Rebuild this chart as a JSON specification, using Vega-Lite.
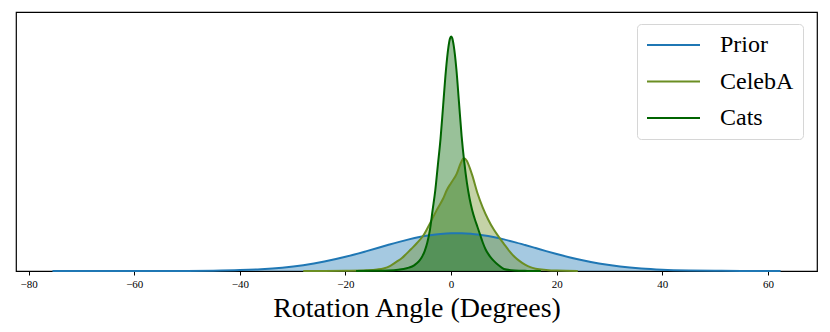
{
  "$schema": "https://vega.github.io/schema/vega-lite/v6.json",
  "width": 801,
  "height": 259,
  "autosize": "none",
  "padding": {"left": 16, "top": 12, "right": 13, "bottom": 61},
  "background": "white",
  "config": {
    "view": {"stroke": "black", "strokeWidth": 1.2},
    "font": "Liberation Serif"
  },
  "datasets": {
    "d": [
      {"series": "Prior", "x": -75.5, "y": 0},
      {"series": "Prior", "x": -70, "y": 0},
      {"series": "Prior", "x": -60, "y": 0.00004},
      {"series": "Prior", "x": -50, "y": 0.00045},
      {"series": "Prior", "x": -45, "y": 0.0013},
      {"series": "Prior", "x": -40, "y": 0.0035},
      {"series": "Prior", "x": -36, "y": 0.007},
      {"series": "Prior", "x": -32, "y": 0.013},
      {"series": "Prior", "x": -28, "y": 0.0225},
      {"series": "Prior", "x": -24, "y": 0.0364},
      {"series": "Prior", "x": -20, "y": 0.0548},
      {"series": "Prior", "x": -16, "y": 0.0768},
      {"series": "Prior", "x": -12, "y": 0.1003},
      {"series": "Prior", "x": -10, "y": 0.1116},
      {"series": "Prior", "x": -8, "y": 0.122},
      {"series": "Prior", "x": -6, "y": 0.131},
      {"series": "Prior", "x": -4, "y": 0.138},
      {"series": "Prior", "x": -2, "y": 0.1431},
      {"series": "Prior", "x": 0, "y": 0.1457},
      {"series": "Prior", "x": 2, "y": 0.1459},
      {"series": "Prior", "x": 4, "y": 0.1431},
      {"series": "Prior", "x": 6, "y": 0.138},
      {"series": "Prior", "x": 8, "y": 0.131},
      {"series": "Prior", "x": 10, "y": 0.122},
      {"series": "Prior", "x": 12, "y": 0.1116},
      {"series": "Prior", "x": 14, "y": 0.1003},
      {"series": "Prior", "x": 16, "y": 0.0886},
      {"series": "Prior", "x": 18, "y": 0.0768},
      {"series": "Prior", "x": 20, "y": 0.0655},
      {"series": "Prior", "x": 24, "y": 0.0451},
      {"series": "Prior", "x": 28, "y": 0.0289},
      {"series": "Prior", "x": 32, "y": 0.0172},
      {"series": "Prior", "x": 36, "y": 0.0096},
      {"series": "Prior", "x": 40, "y": 0.005},
      {"series": "Prior", "x": 45, "y": 0.002},
      {"series": "Prior", "x": 50, "y": 0.0007},
      {"series": "Prior", "x": 55, "y": 0.0002},
      {"series": "Prior", "x": 62.4, "y": 0},
      {"series": "CelebA", "x": -28, "y": 0},
      {"series": "CelebA", "x": -24, "y": 0.0003},
      {"series": "CelebA", "x": -20, "y": 0.001},
      {"series": "CelebA", "x": -16, "y": 0.003},
      {"series": "CelebA", "x": -14, "y": 0.006},
      {"series": "CelebA", "x": -12.8, "y": 0.01},
      {"series": "CelebA", "x": -11.5, "y": 0.02},
      {"series": "CelebA", "x": -10.3, "y": 0.036},
      {"series": "CelebA", "x": -9.3, "y": 0.05},
      {"series": "CelebA", "x": -8.4, "y": 0.068},
      {"series": "CelebA", "x": -7.5, "y": 0.086},
      {"series": "CelebA", "x": -6.5, "y": 0.107},
      {"series": "CelebA", "x": -5.2, "y": 0.139},
      {"series": "CelebA", "x": -4, "y": 0.184},
      {"series": "CelebA", "x": -2.7, "y": 0.236},
      {"series": "CelebA", "x": -1.5, "y": 0.28},
      {"series": "CelebA", "x": -0.8, "y": 0.313},
      {"series": "CelebA", "x": 0, "y": 0.34},
      {"series": "CelebA", "x": 1.1, "y": 0.377},
      {"series": "CelebA", "x": 1.8, "y": 0.415},
      {"series": "CelebA", "x": 2.4, "y": 0.435},
      {"series": "CelebA", "x": 3, "y": 0.425},
      {"series": "CelebA", "x": 3.5, "y": 0.4},
      {"series": "CelebA", "x": 4, "y": 0.37},
      {"series": "CelebA", "x": 5, "y": 0.3},
      {"series": "CelebA", "x": 6, "y": 0.245},
      {"series": "CelebA", "x": 7, "y": 0.2},
      {"series": "CelebA", "x": 8, "y": 0.163},
      {"series": "CelebA", "x": 9, "y": 0.133},
      {"series": "CelebA", "x": 10, "y": 0.105},
      {"series": "CelebA", "x": 11, "y": 0.078},
      {"series": "CelebA", "x": 12, "y": 0.055},
      {"series": "CelebA", "x": 13, "y": 0.038},
      {"series": "CelebA", "x": 14, "y": 0.025},
      {"series": "CelebA", "x": 15, "y": 0.015},
      {"series": "CelebA", "x": 16, "y": 0.009},
      {"series": "CelebA", "x": 18, "y": 0.004},
      {"series": "CelebA", "x": 20, "y": 0.0015},
      {"series": "CelebA", "x": 24, "y": 0},
      {"series": "Cats", "x": -18, "y": 0},
      {"series": "Cats", "x": -15, "y": 0.0005},
      {"series": "Cats", "x": -12, "y": 0.002},
      {"series": "Cats", "x": -10, "y": 0.005},
      {"series": "Cats", "x": -9, "y": 0.008},
      {"series": "Cats", "x": -8, "y": 0.013},
      {"series": "Cats", "x": -7, "y": 0.022},
      {"series": "Cats", "x": -6.5, "y": 0.03},
      {"series": "Cats", "x": -6, "y": 0.04},
      {"series": "Cats", "x": -5.5, "y": 0.055},
      {"series": "Cats", "x": -5, "y": 0.077},
      {"series": "Cats", "x": -4.5, "y": 0.11},
      {"series": "Cats", "x": -4, "y": 0.16},
      {"series": "Cats", "x": -3.5, "y": 0.235},
      {"series": "Cats", "x": -3, "y": 0.31},
      {"series": "Cats", "x": -2.5, "y": 0.41},
      {"series": "Cats", "x": -2, "y": 0.51},
      {"series": "Cats", "x": -1.5, "y": 0.64},
      {"series": "Cats", "x": -1, "y": 0.77},
      {"series": "Cats", "x": -0.5, "y": 0.865},
      {"series": "Cats", "x": -0.2, "y": 0.898},
      {"series": "Cats", "x": 0, "y": 0.905},
      {"series": "Cats", "x": 0.2, "y": 0.9},
      {"series": "Cats", "x": 0.5, "y": 0.87},
      {"series": "Cats", "x": 1, "y": 0.78},
      {"series": "Cats", "x": 1.5, "y": 0.65},
      {"series": "Cats", "x": 2, "y": 0.52},
      {"series": "Cats", "x": 2.5, "y": 0.42},
      {"series": "Cats", "x": 3, "y": 0.34},
      {"series": "Cats", "x": 3.5, "y": 0.28},
      {"series": "Cats", "x": 4, "y": 0.235},
      {"series": "Cats", "x": 4.5, "y": 0.2},
      {"series": "Cats", "x": 5, "y": 0.17},
      {"series": "Cats", "x": 5.5, "y": 0.14},
      {"series": "Cats", "x": 6, "y": 0.11},
      {"series": "Cats", "x": 6.5, "y": 0.085},
      {"series": "Cats", "x": 7, "y": 0.067},
      {"series": "Cats", "x": 7.5, "y": 0.053},
      {"series": "Cats", "x": 8, "y": 0.041},
      {"series": "Cats", "x": 9, "y": 0.022},
      {"series": "Cats", "x": 10, "y": 0.008},
      {"series": "Cats", "x": 12, "y": 0.002},
      {"series": "Cats", "x": 14, "y": 0.0005},
      {"series": "Cats", "x": 17, "y": 0}
    ]
  },
  "data": {"name": "d"},
  "encoding": {
    "x": {
      "field": "x", "type": "quantitative",
      "scale": {"domain": [-82.4, 69.3], "nice": false, "zero": false},
      "axis": {
        "values": [-80, -60, -40, -20, 0, 20, 40, 60],
        "title": "Rotation Angle (Degrees)",
        "titleFont": "Liberation Serif", "titleFontSize": 28, "titleFontWeight": "normal",
        "titleColor": "black", "titlePadding": 5,
        "labelFont": "Liberation Serif", "labelFontSize": 11, "labelColor": "black",
        "labelPadding": 3, "tickSize": 4, "tickColor": "black", "domainColor": "black",
        "grid": false
      }
    },
    "y": {
      "field": "y", "type": "quantitative",
      "scale": {"domain": [0, 1], "nice": false},
      "axis": null
    }
  },
  "layer": [
    {
      "transform": [{"filter": "datum.series === 'Prior'"}],
      "mark": {"type": "area", "interpolate": "monotone", "fill": "#1f77b4", "fillOpacity": 0.4, "stroke": null}
    },
    {
      "transform": [{"filter": "datum.series === 'CelebA'"}],
      "mark": {"type": "area", "interpolate": "monotone", "fill": "#6b8e23", "fillOpacity": 0.4, "stroke": null}
    },
    {
      "transform": [{"filter": "datum.series === 'Cats'"}],
      "mark": {"type": "area", "interpolate": "monotone", "fill": "#006400", "fillOpacity": 0.4, "stroke": null}
    },
    {
      "mark": {"type": "line", "interpolate": "monotone", "strokeWidth": 2},
      "encoding": {
        "color": {
          "field": "series", "type": "nominal",
          "scale": {"domain": ["Prior", "CelebA", "Cats"], "range": ["#1f77b4", "#6b8e23", "#006400"]},
          "legend": {
            "title": null, "orient": "none", "legendX": 621, "legendY": 12,
            "symbolType": "stroke", "symbolSize": 2809, "symbolStrokeWidth": 2,
            "clipHeight": 24, "rowPadding": 12.5, "labelOffset": 19,
            "labelFont": "Liberation Serif", "labelFontSize": 24, "labelColor": "black",
            "padding": 9, "fillColor": "white", "strokeColor": "#d6d6d6", "cornerRadius": 4
          }
        }
      }
    }
  ]
}
